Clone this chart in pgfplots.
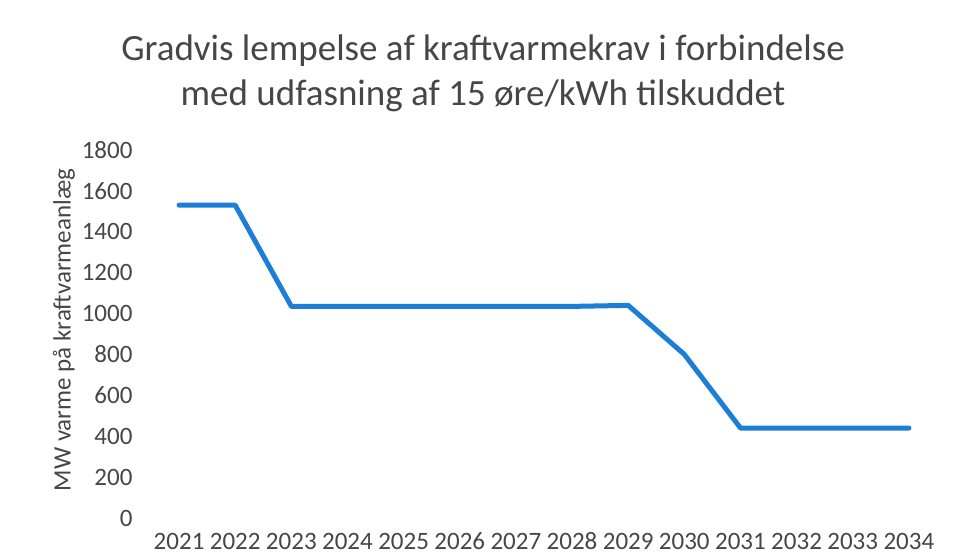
\documentclass[border=0pt]{standalone}
\usepackage{pgfplots}
\pgfplotsset{compat=1.18}
\usepackage{fontspec}
\setmainfont{Carlito}
\definecolor{lineblue}{RGB}{28,126,214}
\definecolor{txt}{RGB}{70,70,70}
\begin{document}
\begin{tikzpicture}
\useasboundingbox (0,0) rectangle (953bp,556bp);
\node[align=center, font=\fontsize{37bp}{45bp}\selectfont, text=txt] at (483bp,483bp) {Gradvis lempelse af kraftvarmekrav i forbindelse\\med udfasning af 15 øre/kWh tilskuddet};
\begin{axis}[
  at={(151bp,38bp)}, anchor=south west,
  scale only axis, width=786bp, height=368bp,
  xmin=2020.5, xmax=2034.5, ymin=0, ymax=1800,
  xtick={2021,...,2034}, ytick={0,200,...,1800},
  axis line style={draw=none}, tick style={draw=none},
  xticklabel style={font=\fontsize{25bp}{28bp}\selectfont, text=txt, yshift=-11bp, text height=17bp, text depth=0bp},
  yticklabel style={font=\fontsize{25bp}{28bp}\selectfont, text=txt, xshift=-15bp},
  /pgf/number format/assume math mode=true,
  x tick label style={/pgf/number format/1000 sep={}},
  y tick label style={/pgf/number format/1000 sep={}},
  ylabel={MW varme på kraftvarmeanlæg},
  ylabel style={font=\fontsize{25bp}{28bp}\selectfont, text=txt, xshift=4bp},
  clip=false,
]
\addplot[lineblue, line width=5bp, line join=round, line cap=round] coordinates {
(2021,1530) (2022,1530) (2023,1035) (2024,1035) (2025,1035) (2026,1035) (2027,1035) (2028,1035) (2029,1040) (2030,800) (2031,440) (2032,440) (2033,440) (2034,440)
};
\end{axis}
\end{tikzpicture}
\end{document}
